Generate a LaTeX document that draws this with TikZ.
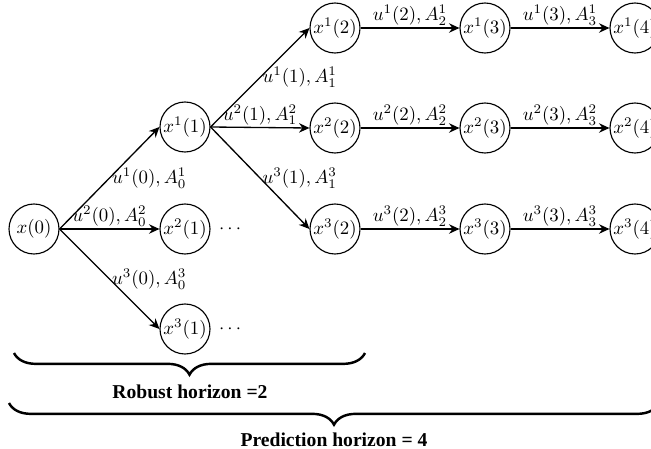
\documentclass[tikz,border=0pt]{standalone}
\usepackage[no-math]{fontspec}
\newfontfamily\tnr{Liberation Serif}
\usetikzlibrary{arrows.meta,decorations.pathreplacing}
\begin{document}
\begin{tikzpicture}[x=0.53pt,y=-0.53pt,
  st/.style={draw,circle,line width=0.6pt,inner sep=0pt,minimum size=26.5pt},
  arr/.style={line width=0.7pt,-{Stealth[length=5.5pt,width=5pt]}},
  lr/.style={anchor=west,inner sep=1pt,midway},
  la/.style={above,inner sep=1pt,midway},
  br/.style={decorate,decoration={brace,mirror,amplitude=11.5pt},line width=1.3pt},
  hl/.style={font=\tnr\bfseries\fontsize{10.4}{12}\selectfont}]
\useasboundingbox (0,0) rectangle (651,449);
% nodes
\node[st] (x0) at (34,229) {$x(0)$};
\node[st] (x11) at (185,127) {$x^1(1)$};
\node[st] (x21) at (185,229) {$x^2(1)$};
\node[st] (x31) at (185,329) {$x^3(1)$};
\node[st] (x12) at (335,28) {$x^1(2)$};
\node[st] (x22) at (335,128) {$x^2(2)$};
\node[st] (x32) at (335,229) {$x^3(2)$};
\node[st] (x13) at (485,28) {$x^1(3)$};
\node[st] (x23) at (485,128) {$x^2(3)$};
\node[st] (x33) at (485,229) {$x^3(3)$};
\node[st] (x14) at (635,28) {$x^1(4)$};
\node[st] (x24) at (635,128) {$x^2(4)$};
\node[st] (x34) at (635,229) {$x^3(4)$};
\node[right=1pt] (d2) at (x21.east) {$\cdots$};
\node[right=1pt] (d3) at (x31.east) {$\cdots$};
% edges
\draw[arr] (x0.east) -- node[lr] {$u^1(0),A^1_0$} (x11.west);
\draw[arr] (x0.east) -- node[la] {$u^2(0),A^2_0$} (x21.west);
\draw[arr] (x0.east) -- node[lr] {$u^3(0),A^3_0$} (x31.west);
\draw[arr] (x11.east) -- node[lr] {$u^1(1),A^1_1$} (x12.west);
\draw[arr] (x11.east) -- node[la] {$u^2(1),A^2_1$} (x22.west);
\draw[arr] (x11.east) -- node[lr] {$u^3(1),A^3_1$} (x32.west);
\draw[arr] (x12) -- node[la] {$u^1(2),A^1_2$} (x13);
\draw[arr] (x22) -- node[la] {$u^2(2),A^2_2$} (x23);
\draw[arr] (x32) -- node[la] {$u^3(2),A^3_2$} (x33);
\draw[arr] (x13) -- node[la] {$u^1(3),A^1_3$} (x14);
\draw[arr] (x23) -- node[la] {$u^2(3),A^2_3$} (x24);
\draw[arr] (x33) -- node[la] {$u^3(3),A^3_3$} (x34);
% braces
\coordinate (ra) at (14,353);
\coordinate (rb) at (365,353);
\coordinate (pa) at (9,403);
\coordinate (pb) at (659,403);
\draw[br] (ra) -- (rb);
\draw[br] (pa) -- (pb);
\node[hl] (rl) at (190,392) {Robust horizon =2};
\node[hl] (pl) at (334,440) {Prediction horizon = 4};
\end{tikzpicture}
\end{document}
